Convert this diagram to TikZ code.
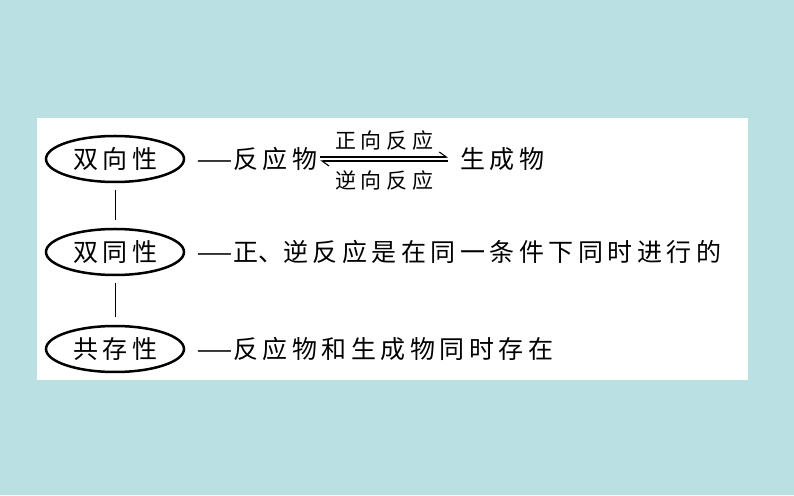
\documentclass[tikz,border=0pt]{standalone}
\usepackage{fontspec}
\newfontfamily\cjk[LetterSpace=18]{Noto Sans CJK SC}
\newfontfamily\cjksmall[LetterSpace=22]{Noto Sans CJK SC}
\usetikzlibrary{shapes.geometric,arrows.meta,positioning}
\definecolor{bgblue}{RGB}{186,224,227}
\newcommand{\longdash}{\scalebox{1.65}[1]{—}}
\newcommand{\narrowcomma}{{\addfontfeature{CharacterWidth=Half}、}}

\tikzset{
    prop/.style={draw, ellipse, line width=2.5pt, minimum width=138pt, minimum height=46pt,
        inner sep=0pt, font=\cjk\fontsize{25}{25}\selectfont},
    desc/.style={anchor=west, inner sep=0pt, font=\cjk\fontsize{25}{25}\selectfont},
    cond/.style={inner sep=0pt, font=\cjksmall\fontsize{21}{21}\selectfont},
    harp/.style={line width=1.1pt, -{Straight Barb[left, length=7pt, width=10pt]}},
    link/.style={line width=1pt, shorten <=7pt, shorten >=8pt},
}

\begin{document}
\begin{tikzpicture}[x=1pt, y=1pt]
    \useasboundingbox (0,0) rectangle (794,495);
    \fill[bgblue] (0,0) rectangle (794,495);
    \fill[white] (37,115) rectangle (748,377);

    % the three properties
    \node[prop] (twoway) at (115,336) {双向性};
    \node[prop] (same) at (115,243) {双同性};
    \node[prop] (coexist) at (115,146) {共存性};

    \draw[link] (twoway.south) -- (same.north);
    \draw[link] (same.south) -- (coexist.north);

    % first row: reversible reaction
    \node[desc] (reactant) at (196,336) {\longdash 反应物};
    \node[desc] (product) at (460,336) {生成物};

    \draw[harp] ([yshift=2pt, xshift=3pt]reactant.east) -- ([yshift=2pt, xshift=-12pt]product.west)
        node[cond, midway, above=6pt] (fwd) {正向反应};
    \draw[harp] ([yshift=-2pt, xshift=-12pt]product.west) -- ([yshift=-2pt, xshift=3pt]reactant.east)
        node[cond, midway, below=9pt] (bwd) {逆向反应};

    % second and third rows
    \node[desc] (samecond) at (196,243) {\longdash 正\narrowcomma 逆反应是在同一条件下同时进行的};
    \node[desc] (together) at (196,146) {\longdash 反应物和生成物同时存在};
\end{tikzpicture}
\end{document}
